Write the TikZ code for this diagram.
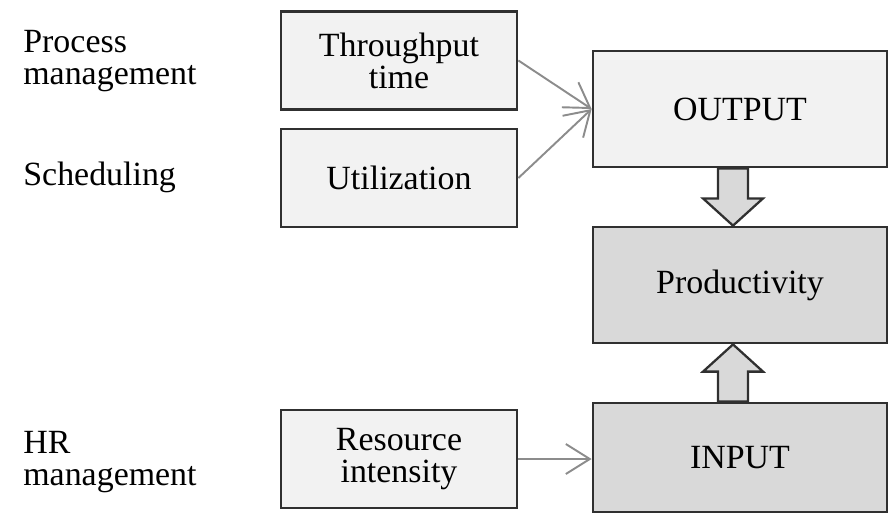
\documentclass[tikz,border=0pt]{standalone}
\usepackage{fontspec}
\setmainfont{Liberation Serif}
\usetikzlibrary{arrows.meta,calc}
\definecolor{boxlight}{HTML}{F2F2F2}
\definecolor{boxdark}{HTML}{D9D9D9}
\definecolor{edgegray}{HTML}{303030}
\definecolor{linkgray}{HTML}{8C8C8C}
\tikzset{
  box/.style={draw=edgegray, line width=1.6pt, fill=boxlight, align=center,
    inner sep=0pt, minimum width=4.72cm, minimum height=1.96cm},
  bigbox/.style={minimum width=5.88cm, minimum height=2.32cm},
  area/.style={align=left, inner sep=0pt, anchor=north west},
  link/.style={draw=linkgray, line width=1.1pt, -{Straight Barb[length=4.8mm,width=6mm]}},
  blockarrow/.style={draw=edgegray, line width=1.3pt, fill=boxdark, line join=miter},
}

\begin{document}
\begin{tikzpicture}[x=0.02cm, y=-0.02cm, font=\fontsize{19.3}{18.2}\selectfont]
  \useasboundingbox (0,0) rectangle (891,515);
  % fields on the left
  \node[area] (pm) at (23,29.5) {Process\\management};
  \node[area, anchor=base west] (sch) at (23,185) {Scheduling};
  \node[area] (hr) at (23,430.5) {HR\\management};
  % measures
  \node[box] (tput) at (399,60.5) {Throughput\\time};
  \node[box] (util) at (399,178) {Utilization};
  \node[box] (res) at (399,459) {Resource\\intensity};
  % output / productivity / input
  \node[box, bigbox] (out) at (740,109) {OUTPUT};
  \node[box, bigbox, fill=boxdark] (prod) at (740,285) {Productivity};
  \node[box, bigbox, fill=boxdark, minimum height=2.18cm] (inp) at (740,457.5) {INPUT};
  \draw[link] (tput.east) -- (out.west);
  \draw[link] (util.east) -- (out.west);
  \draw[link] (res.east) -- (res.east -| inp.west);
  % block arrows
  \coordinate (dtop) at ($(out.south)+(-7,0)$);
  \coordinate (utop) at ($(inp.north)+(-7,0)$);
  \draw[blockarrow] ($(dtop)+(-15,0)$) -- ++(0,30) -- ++(-15,0) -- (dtop |- prod.north)
    -- ($(dtop)+(30,30)$) -- ++(-15,0) -- ++(0,-30) -- cycle;
  \draw[blockarrow] ($(utop)+(-15,0)$) -- ++(0,-30) -- ++(-15,0) -- (utop |- prod.south)
    -- ($(utop)+(30,-30)$) -- ++(-15,0) -- ++(0,30) -- cycle;
\end{tikzpicture}
\end{document}
